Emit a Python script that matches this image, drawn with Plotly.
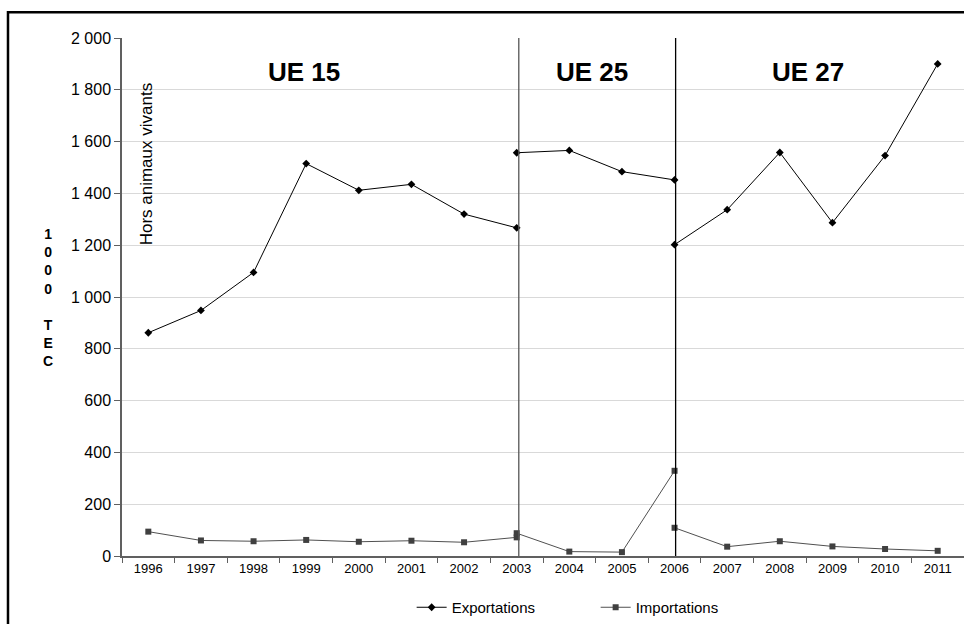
import plotly.graph_objects as go

years = ["1996", "1997", "1998", "1999", "2000", "2001", "2002", "2003",
         "2004", "2005", "2006", "2007", "2008", "2009", "2010", "2011"]

years_ue15 = years[0:8]    # 1996-2003
years_ue25 = years[7:11]   # 2003-2006
years_ue27 = years[10:16]  # 2006-2011

export_ue15 = [862, 948, 1095, 1515, 1412, 1435, 1320, 1267]
export_ue25 = [1557, 1566, 1484, 1452]
export_ue27 = [1202, 1337, 1558, 1287, 1546, 1900]

import_ue15 = [94, 60, 57, 62, 55, 59, 53, 72]
import_ue25 = [88, 17, 15, 329]
import_ue27 = [109, 36, 57, 37, 27, 20]

zone_labels = ["UE 15", "UE 25", "UE 27"]
y_title_chars = ["1", "0", "0", "0", "", "T", "E", "C"]
note = "Hors animaux vivants"

FONT = "Liberation Sans, Arial, sans-serif"

fig = go.Figure()

segments = [(years_ue15, export_ue15, import_ue15),
            (years_ue25, export_ue25, import_ue25),
            (years_ue27, export_ue27, import_ue27)]

for i, (xs, ex, im) in enumerate(segments):
    fig.add_trace(go.Scatter(
        x=xs, y=ex, mode="lines+markers", name="Exportations",
        legendgroup="exp", showlegend=(i == 0),
        line=dict(color="#000000", width=1),
        marker=dict(symbol="diamond", size=6, color="#000000"),
    ))
for i, (xs, ex, im) in enumerate(segments):
    fig.add_trace(go.Scatter(
        x=xs, y=im, mode="lines+markers", name="Importations",
        legendgroup="imp", showlegend=(i == 0),
        line=dict(color="#505050", width=1),
        marker=dict(symbol="square", size=6, color="#404040"),
    ))

# vertical separators at 2003 and 2006
fig.add_shape(type="line", xref="x", yref="y", x0=7.04, x1=7.04, y0=0, y1=2000,
              line=dict(color="#555555", width=1.3), layer="above")
fig.add_shape(type="line", xref="x", yref="y", x0=10.02, x1=10.02, y0=0, y1=2000,
              line=dict(color="#000000", width=1.3), layer="above")

# outer frame
fig.add_shape(type="rect", xref="paper", yref="paper",
              x0=-0.1354, x1=1.1, y0=-0.2, y1=1.0495,
              line=dict(color="#000000", width=2.5), fillcolor="rgba(0,0,0,0)")

for lbl, xp in zip(zone_labels, [0.2167, 0.558, 0.815]):
    fig.add_annotation(text="<b>%s</b>" % lbl, xref="paper", yref="paper",
                       x=xp, y=0.9345, xanchor="center", yanchor="middle",
                       showarrow=False,
                       font=dict(family=FONT, size=26, color="#000000"))

fig.add_annotation(text=note, xref="paper", yref="paper", x=0.0285, y=0.758,
                   xanchor="center", yanchor="middle",
                   textangle=-90, showarrow=False,
                   font=dict(family=FONT, size=17, color="#000000"))

fig.add_annotation(text="<b>" + "<br>".join(y_title_chars) + "</b>",
                   xref="paper", yref="paper", x=-0.0879, y=0.5,
                   xanchor="center", yanchor="middle",
                   showarrow=False, align="center",
                   font=dict(family=FONT, size=14, color="#000000"))

fig.update_layout(
    width=964, height=624,
    margin=dict(l=122, r=0, t=38, b=67),
    paper_bgcolor="#ffffff", plot_bgcolor="#ffffff",
    separators=", ",
    font=dict(family=FONT, color="#000000"),
    showlegend=True,
    legend=dict(orientation="h", x=0.344, xanchor="left", y=-0.1, yanchor="middle",
                font=dict(family=FONT, size=15, color="#000000"),
                entrywidth=139, entrywidthmode="pixels",
                bgcolor="rgba(0,0,0,0)"),
    xaxis=dict(type="category", categoryorder="array", categoryarray=years,
               range=[-0.5, 15.5], tickson="boundaries", ticks="outside",
               ticklen=5, tickcolor="#606060", showgrid=False,
               showline=True, linecolor="#606060", linewidth=1.5,
               tickfont=dict(family=FONT, size=13, color="#000000")),
    yaxis=dict(range=[0, 2000], dtick=200, tickformat=",", ticks="outside",
               ticklen=6, tickcolor="#606060", showgrid=True, gridcolor="#d9d9d9",
               gridwidth=1, showline=True, linecolor="#606060", linewidth=1.5,
               zeroline=False,
               tickfont=dict(family=FONT, size=16, color="#000000")),
)

fig.write_html("out.html", config={"displayModeBar": False},
               post_script="document.body.style.margin='0';document.body.style.overflow='hidden';")
